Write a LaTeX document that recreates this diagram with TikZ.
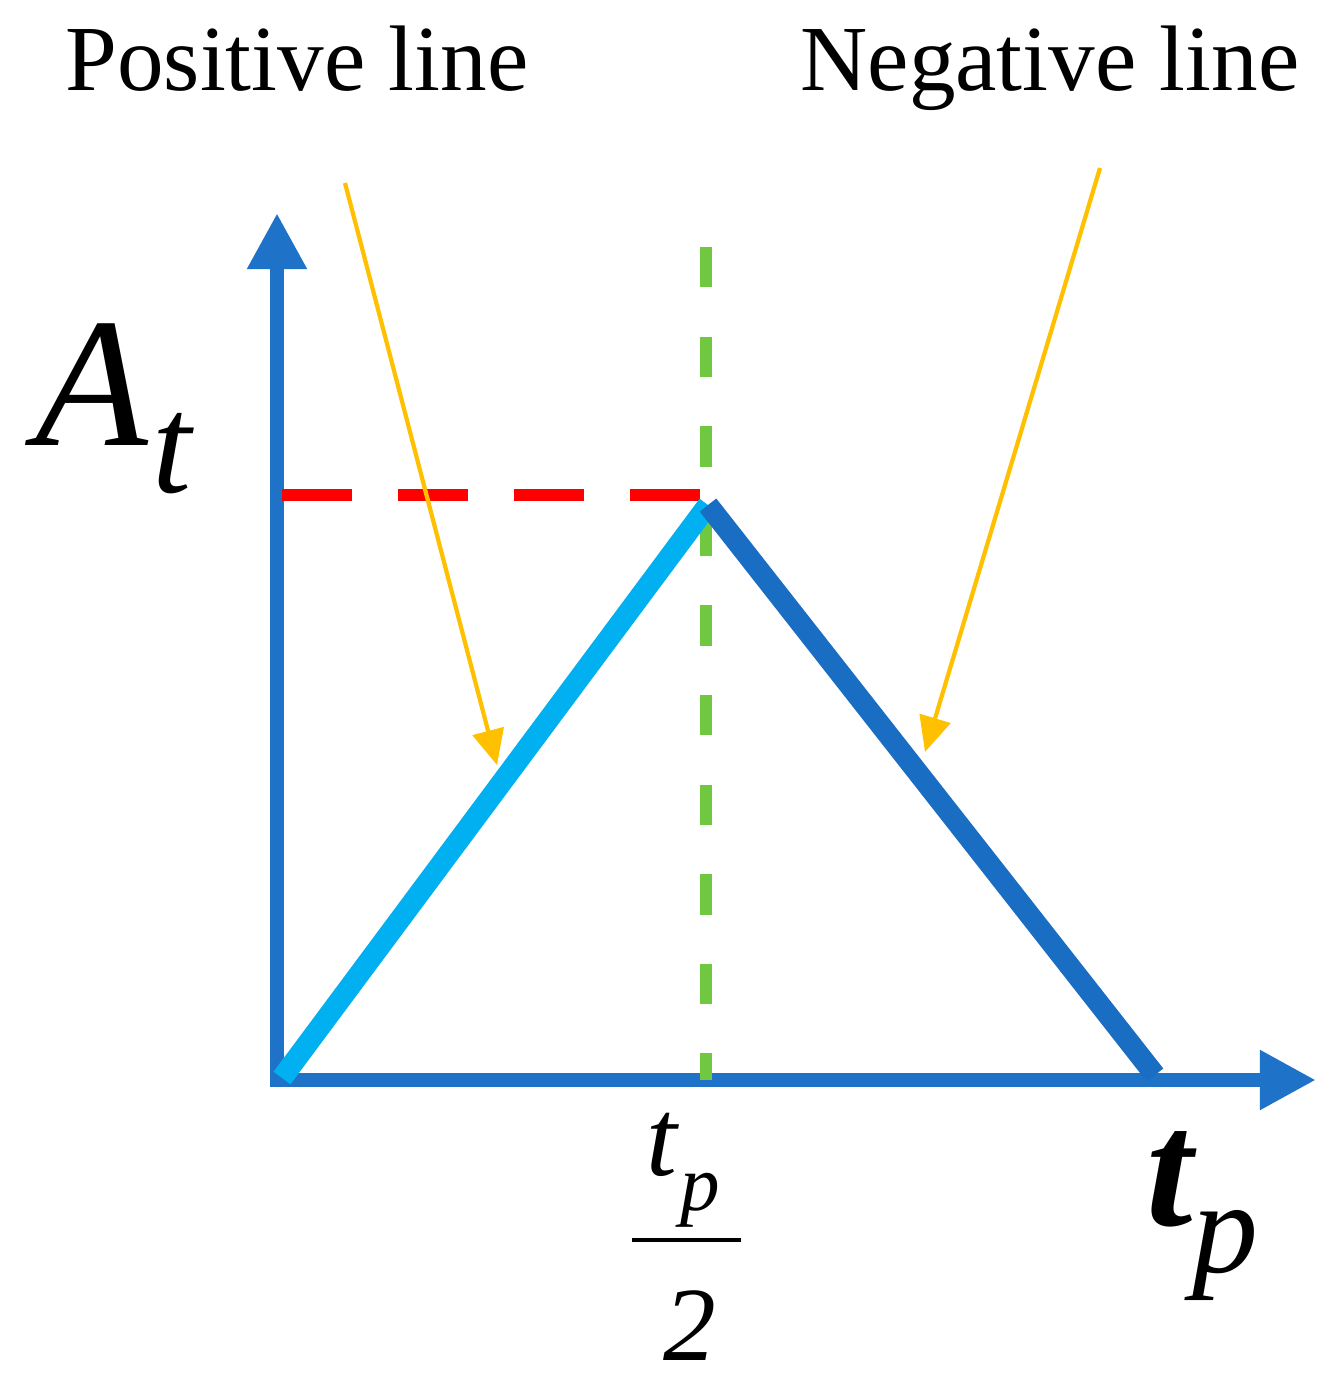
\documentclass[tikz,border=0pt]{standalone}
\usepackage{fontspec}
\setmainfont{Liberation Serif}
\usetikzlibrary{arrows.meta}
\definecolor{axisblue}{RGB}{30,115,200}
\definecolor{posblue}{RGB}{0,176,240}
\definecolor{negblue}{RGB}{25,110,195}
\definecolor{yel}{RGB}{255,192,0}
\definecolor{grn}{RGB}{112,200,64}
\definecolor{rd}{RGB}{255,0,0}
\tikzset{
 axisline/.style={axisblue,line width=8pt,-{Triangle[length=32pt,width=32pt]}},
 pointer/.style={yel,line width=2.4pt,-{Triangle[length=20pt,width=18pt]}},
 lbl/.style={inner sep=0pt,anchor=base},
}
\begin{document}
\begin{tikzpicture}[x=0.02cm,y=-0.02cm]
\useasboundingbox (0,0) rectangle (1342,1396);
\coordinate (O) at (277,1080);
\coordinate (ytip) at (277,213);
\coordinate (xtip) at (1316,1080);
\coordinate (P) at (708,505);
\coordinate (E) at (1155,1075);
\coordinate (S) at (282,1078);
\draw[axisline] (277,1087) -- (ytip);
\draw[axisline] (270,1080) -- (xtip);
\draw[rd,line width=7pt,dash pattern=on 40pt off 26pt] (700,495) -- (282,495);
\draw[grn,line width=7pt,dash pattern=on 23pt off 28pt] (706,247) -- (706,1080);
\draw[posblue,line width=12pt] (S) -- (P);
\draw[negblue,line width=12pt] (P) -- (E);
\draw[pointer] (345,183) -- (497,765);
\draw[pointer] (1100,168) -- (925,752);
\node[lbl,font=\fontsize{53pt}{60pt}\selectfont] (pl) at (297,90) {Positive line};
\node[lbl,font=\fontsize{53pt}{60pt}\selectfont] (nl) at (1050,90) {Negative line};
\node[lbl,font=\fontsize{105pt}{120pt}\selectfont\itshape] (A) at (92,445) {A};
\node[lbl,font=\fontsize{80pt}{90pt}\selectfont\itshape] (At) at (172,492) {t};
\node[lbl,font=\fontsize{63pt}{70pt}\selectfont\itshape] (ft) at (662,1175) {t};
\node[lbl,font=\fontsize{45pt}{50pt}\selectfont\itshape] (fp) at (700,1210) {p};
\draw[black,line width=2.5pt] (632,1240) -- (741,1240);
\node[lbl,font=\fontsize{60pt}{70pt}\selectfont\itshape] (f2) at (690,1360) {2};
\node[lbl,font=\fontsize{95pt}{110pt}\selectfont\bfseries\itshape] (tp) at (1170,1225) {t};
\node[lbl,font=\fontsize{75pt}{80pt}\selectfont\itshape] (tpp) at (1225,1272) {p};
\end{tikzpicture}
\end{document}
